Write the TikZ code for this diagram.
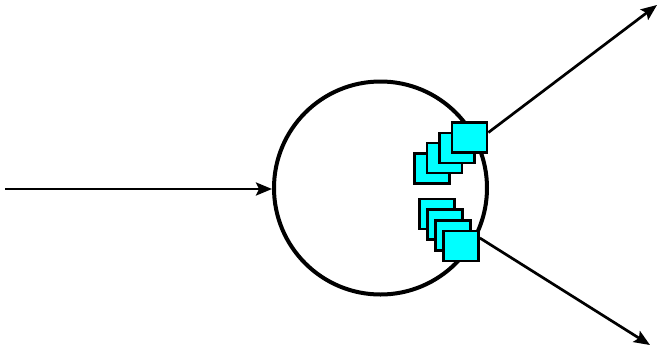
\documentclass[tikz,border=0pt]{standalone}
\usetikzlibrary{arrows.meta}
\definecolor{aqua}{RGB}{0,255,255}
\begin{document}
\begin{tikzpicture}[x=1pt,y=-1pt,
  sq/.style={draw=black,fill=aqua,line width=2.7pt,rectangle,minimum width=35pt,minimum height=30pt,inner sep=0pt},
  arr/.style={line width=2.7pt,-{Stealth[length=16pt,width=13pt,inset=3pt]}}]
\useasboundingbox (0,0) rectangle (659,349);
\node[circle,draw,line width=4pt,minimum size=213pt,inner sep=0pt] (c) at (380.5,188) {};
% top stack (back to front)
\node[sq] (t1) at (432,168.5) {};
\node[sq] (t2) at (444.5,158) {};
\node[sq] (t3) at (457,148) {};
\node[sq] (t4) at (469.5,137.5) {};
% bottom stack (back to front)
\node[sq] (b1) at (437,214) {};
\node[sq] (b2) at (445,224.7) {};
\node[sq] (b3) at (453,235.3) {};
\node[sq] (b4) at (461,246) {};
\coordinate (in) at (5,189);
\coordinate (outt) at (657,5);
\coordinate (outb) at (650,345);
\draw[arr] (in) -- (in -| c.west);
\draw[arr] ([yshift=5pt]t4.east) -- (outt);
\draw[arr] ([yshift=8pt]b4.east) -- (outb);
\end{tikzpicture}
\end{document}
